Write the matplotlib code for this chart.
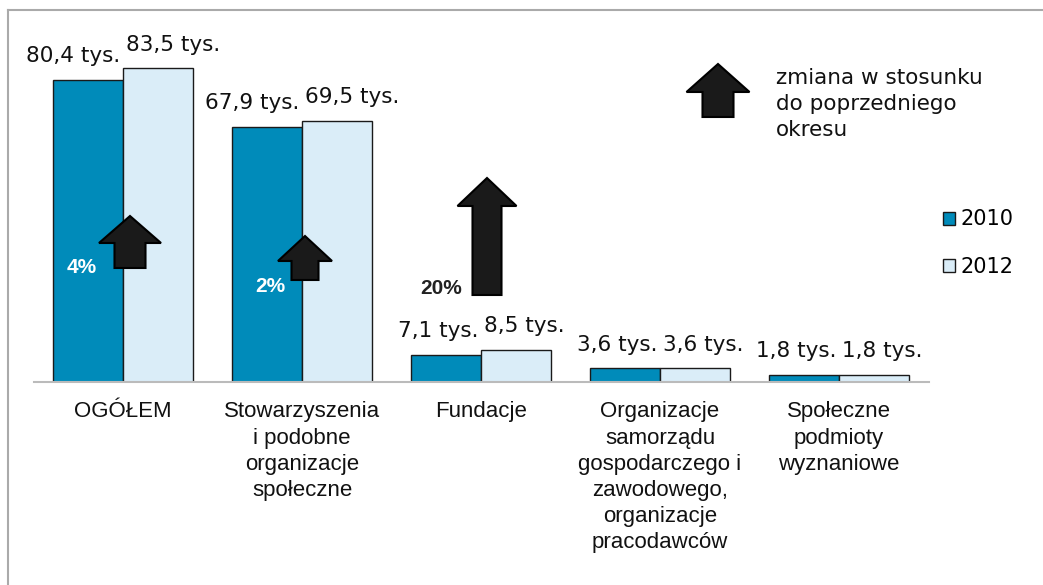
import matplotlib

matplotlib.use("Agg")

import matplotlib.pyplot as plt
from matplotlib.lines import Line2D
from matplotlib.patches import Patch, Polygon


categories = [
    "OGÓŁEM",
    "Stowarzyszenia\ni podobne\norganizacje\nspołeczne",
    "Fundacje",
    "Organizacje\nsamorządu\ngospodarczego i\nzawodowego,\norganizacje\npracodawców",
    "Społeczne\npodmioty\nwyznaniowe",
]
values_2010 = [80.4, 67.9, 7.1, 3.6, 1.8]
values_2012 = [83.5, 69.5, 8.5, 3.6, 1.8]
labels_2010 = ["80,4 tys.", "67,9 tys.", "7,1 tys.", "3,6 tys.", "1,8 tys."]
labels_2012 = ["83,5 tys.", "69,5 tys.", "8,5 tys.", "3,6 tys.", "1,8 tys."]
series_names = ["2010", "2012"]
change_labels = ["4%", "2%", "20%"]

COLOR_2010 = "#008bba"
COLOR_2012 = "#daedf8"
W, H = 1043, 585


def px(x, y):
    # pixel position (from top-left) -> figure fraction
    return x / W, 1 - y / H


def block_arrow(fig, cx, tip, bottom, head_w, shaft_w, head_h):
    pts = [
        (cx, tip),
        (cx + head_w / 2, tip + head_h),
        (cx + shaft_w / 2, tip + head_h),
        (cx + shaft_w / 2, bottom),
        (cx - shaft_w / 2, bottom),
        (cx - shaft_w / 2, tip + head_h),
        (cx - head_w / 2, tip + head_h),
    ]
    poly = Polygon([px(x, y) for x, y in pts], closed=True,
                   transform=fig.transFigure, facecolor="#1a1a1a",
                   edgecolor="#000000", linewidth=1.5, joinstyle="miter",
                   zorder=5)
    fig.add_artist(poly)


fig = plt.figure(figsize=(W / 100, H / 100), dpi=100)
ax = fig.add_axes([33.5 / W, 203 / H, 895 / W, 338 / H])

x = list(range(len(categories)))
bw = 0.391
x_dark = [i - bw / 2 for i in x]
x_light = [i + bw / 2 for i in x]

ax.bar(x_dark, values_2010, width=bw, color=COLOR_2010, edgecolor="#1a1a1a",
       linewidth=1, zorder=3)
ax.bar(x_light, values_2012, width=bw, color=COLOR_2012, edgecolor="#1a1a1a",
       linewidth=1, zorder=3)

for xd, v, lab in zip(x_dark, values_2010, labels_2010):
    ax.annotate(lab, (xd + bw / 2, v), xytext=(-2, 10), textcoords="offset points",
                ha="right", va="bottom", fontsize=15.5, family="DejaVu Sans",
                color="#111111")
for xl, v, lab in zip(x_light, values_2012, labels_2012):
    ax.annotate(lab, (xl - bw / 2, v), xytext=(2, 10), textcoords="offset points",
                ha="left", va="bottom", fontsize=15.5, family="DejaVu Sans",
                color="#111111")

ax.set_xlim(-0.5, 4.5)
ax.set_ylim(0, 90)
ax.set_yticks([])
ax.set_xticks(x)
ax.set_xticklabels(categories, family="Liberation Sans", fontsize=16,
                   linespacing=1.32, color="#111111")
ax.tick_params(axis="x", length=0, pad=14)
for side in ("left", "right", "top"):
    ax.spines[side].set_visible(False)
ax.spines["bottom"].set_color("#bbbbbb")
ax.spines["bottom"].set_linewidth(1.5)
ax.spines["bottom"].set_zorder(4)

# change arrows
block_arrow(fig, 130, 216, 268, 62, 31, 27)
block_arrow(fig, 305, 236, 280, 54, 27, 25)
block_arrow(fig, 487, 178, 295, 59, 29, 28)
block_arrow(fig, 718, 64, 117, 63, 31, 28)

fig.text(*px(82, 268), change_labels[0], ha="center", va="center",
         fontsize=15, fontweight="bold", family="Liberation Sans", color="white",
         zorder=6)
fig.text(*px(270, 287), change_labels[1], ha="center", va="center",
         fontsize=15, fontweight="bold", family="Liberation Sans", color="white",
         zorder=6)
fig.text(*px(441, 288), change_labels[2], ha="center", va="center",
         fontsize=15, fontweight="bold", family="Liberation Sans", color="#222222",
         zorder=6)

fig.text(*px(776, 68), "zmiana w stosunku\ndo poprzedniego\nokresu", ha="left",
         va="top", fontsize=15.5, family="DejaVu Sans", linespacing=1.38,
         color="#111111")

handles = [Patch(facecolor=COLOR_2010, edgecolor="#1a1a1a", linewidth=1),
           Patch(facecolor=COLOR_2012, edgecolor="#1a1a1a", linewidth=1)]
fig.legend(handles, series_names, loc="center left",
           bbox_to_anchor=px(924, 243), frameon=False, handlelength=0.6,
           handleheight=0.6, handletextpad=0.25, labelspacing=1.3,
           prop={"family": "DejaVu Sans", "size": 15})

# partial outer frame
fig.add_artist(Line2D([8 / W, 8 / W], [0, 1 - 10 / H], transform=fig.transFigure,
                      color="#aaaaaa", linewidth=1.5))
fig.add_artist(Line2D([8 / W, 1], [1 - 10 / H, 1 - 10 / H], transform=fig.transFigure,
                      color="#aaaaaa", linewidth=1.5))

fig.savefig("out.png", dpi=100)
